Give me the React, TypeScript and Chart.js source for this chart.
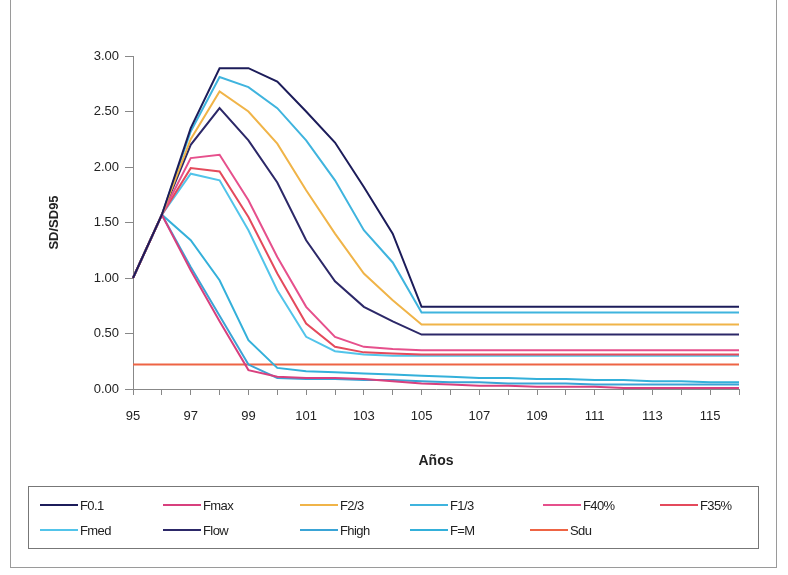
import React, { useEffect, useRef } from "react";
import { Chart, registerables } from "chart.js";

Chart.register(...registerables);

const years = ["95","96","97","98","99","100","101","102","103","104","105","106","107","108","109","110","111","112","113","114","115","116"];
const yTicks = [0, 0.5, 1, 1.5, 2, 2.5, 3];

const sF01 = [1.00, 1.57, 2.35, 2.89, 2.89, 2.77, 2.50, 2.22, 1.82, 1.40, 0.74, 0.74, 0.74, 0.74, 0.74, 0.74, 0.74, 0.74, 0.74, 0.74, 0.74, 0.74];
const sFmax = [1.00, 1.57, 1.07, 0.61, 0.17, 0.11, 0.10, 0.10, 0.09, 0.07, 0.05, 0.04, 0.03, 0.03, 0.02, 0.02, 0.02, 0.01, 0.01, 0.01, 0.01, 0.01];
const sF23 = [1.00, 1.57, 2.25, 2.68, 2.50, 2.21, 1.79, 1.40, 1.04, 0.80, 0.58, 0.58, 0.58, 0.58, 0.58, 0.58, 0.58, 0.58, 0.58, 0.58, 0.58, 0.58];
const sF13 = [1.00, 1.57, 2.32, 2.81, 2.72, 2.53, 2.24, 1.88, 1.43, 1.14, 0.69, 0.69, 0.69, 0.69, 0.69, 0.69, 0.69, 0.69, 0.69, 0.69, 0.69, 0.69];
const sF40 = [1.00, 1.57, 2.08, 2.11, 1.70, 1.19, 0.74, 0.47, 0.38, 0.36, 0.35, 0.35, 0.35, 0.35, 0.35, 0.35, 0.35, 0.35, 0.35, 0.35, 0.35, 0.35];
const sF35 = [1.00, 1.57, 1.99, 1.96, 1.55, 1.04, 0.59, 0.38, 0.33, 0.32, 0.31, 0.31, 0.31, 0.31, 0.31, 0.31, 0.31, 0.31, 0.31, 0.31, 0.31, 0.31];
const sFmed = [1.00, 1.57, 1.94, 1.88, 1.43, 0.89, 0.47, 0.34, 0.31, 0.30, 0.30, 0.30, 0.30, 0.30, 0.30, 0.30, 0.30, 0.30, 0.30, 0.30, 0.30, 0.30];
const sFlow = [1.00, 1.57, 2.20, 2.53, 2.24, 1.86, 1.34, 0.97, 0.74, 0.61, 0.49, 0.49, 0.49, 0.49, 0.49, 0.49, 0.49, 0.49, 0.49, 0.49, 0.49, 0.49];
const sFhigh = [1.00, 1.57, 1.10, 0.66, 0.22, 0.10, 0.09, 0.09, 0.08, 0.08, 0.07, 0.06, 0.06, 0.05, 0.05, 0.05, 0.04, 0.04, 0.04, 0.04, 0.04, 0.04];
const sFM = [1.00, 1.57, 1.34, 0.98, 0.44, 0.19, 0.16, 0.15, 0.14, 0.13, 0.12, 0.11, 0.10, 0.10, 0.09, 0.09, 0.08, 0.08, 0.07, 0.07, 0.06, 0.06];
const sSdu = [0.22, 0.22, 0.22, 0.22, 0.22, 0.22, 0.22, 0.22, 0.22, 0.22, 0.22, 0.22, 0.22, 0.22, 0.22, 0.22, 0.22, 0.22, 0.22, 0.22, 0.22, 0.22];

const seriesNames = ["F0.1", "Fmax", "F2/3", "F1/3", "F40%", "F35%", "Fmed", "Flow", "Fhigh", "F=M", "Sdu"];
const seriesData = [sF01, sFmax, sF23, sF13, sF40, sF35, sFmed, sFlow, sFhigh, sFM, sSdu];
const seriesColors = ["#1c1c5a", "#d8407e", "#f0b448", "#3fb4de", "#e6508c", "#e44a5c", "#52c4ea", "#2c2868", "#3aa4d6", "#34b0da", "#ee6444"];

const FONT = "'Liberation Sans', Arial, sans-serif";

// legend layout (pixel positions of each entry's line start)
const legendPos = [
  [40, 505], [163, 505], [300, 505], [410, 505], [543, 505], [660, 505],
  [40, 530], [163, 530], [300, 530], [410, 530], [530, 530],
];

export default function App() {
  const canvasRef = useRef<HTMLCanvasElement | null>(null);

  useEffect(() => {
    const canvas = canvasRef.current;
    if (!canvas) return;
    const chart = new Chart(canvas, {
      type: "line",
      data: {
        labels: years,
        datasets: seriesNames.map((name, i) => ({
          label: name,
          data: seriesData[i],
          borderColor: seriesColors[i],
          backgroundColor: seriesColors[i],
          borderWidth: 2,
          pointRadius: 0,
          tension: 0,
          fill: false,
        })),
      },
      options: {
        responsive: false,
        animation: false,
        devicePixelRatio: 1,
        layout: { padding: { left: 47, top: 56, right: 49, bottom: 105 } },
        plugins: { legend: { display: false }, tooltip: { enabled: false } },
        scales: {
          x: {
            type: "category",
            offset: false,
            afterFit: (s: any) => { s.height = 81; },
            grid: { display: true, drawOnChartArea: false, drawTicks: true, tickLength: 6, tickColor: "#888" },
            border: { display: true, color: "#888", width: 1 },
            ticks: {
              autoSkip: false,
              maxRotation: 0,
              padding: 14,
              color: "#222",
              font: { family: FONT, size: 13 },
              callback: (v: any, i: number) => (i % 2 === 0 ? years[i] : ""),
            },
            title: { display: true, text: "Años", color: "#222", font: { family: FONT, size: 14, weight: "bold" }, padding: 0 },
          },
          y: {
            min: 0,
            max: 3,
            afterFit: (s: any) => { s.width = 86; },
            afterBuildTicks: (s: any) => { s.ticks = yTicks.map((v) => ({ value: v })); },
            grid: { display: true, drawOnChartArea: false, drawTicks: true, tickLength: 8, tickColor: "#888" },
            border: { display: true, color: "#888", width: 1 },
            ticks: {
              padding: 6,
              color: "#222",
              font: { family: FONT, size: 13 },
              callback: (v: any) => Number(v).toFixed(2),
            },
            title: { display: true, text: "SD/SD95", color: "#222", font: { family: FONT, size: 13, weight: "bold" }, padding: 0 },
          },
        },
      },
    });
    return () => chart.destroy();
  }, []);

  return (
    <div style={{ position: "absolute", left: 0, top: 0, width: 788, height: 575, background: "#fff", overflow: "hidden" }}>
      <canvas ref={canvasRef} width={788} height={575} style={{ position: "absolute", left: 0, top: 0, width: 788, height: 575 }} />
      <div style={{ position: "absolute", left: 10, top: -2, width: 765, height: 568, border: "1px solid #9a9a9a", pointerEvents: "none" }} />
      <div style={{ position: "absolute", left: 28, top: 486, width: 729, height: 61, border: "1px solid #777", pointerEvents: "none" }} />
      {seriesNames.map((name, i) => (
        <div key={name} style={{ position: "absolute", left: legendPos[i][0], top: legendPos[i][1] - 9, height: 18, display: "flex", alignItems: "center", fontFamily: FONT, fontSize: 13, color: "#222", letterSpacing: -0.6, whiteSpace: "nowrap" }}>
          <span style={{ display: "inline-block", width: 38, height: 2, background: seriesColors[i], marginRight: 2 }} />
          <span>{name}</span>
        </div>
      ))}
    </div>
  );
}
